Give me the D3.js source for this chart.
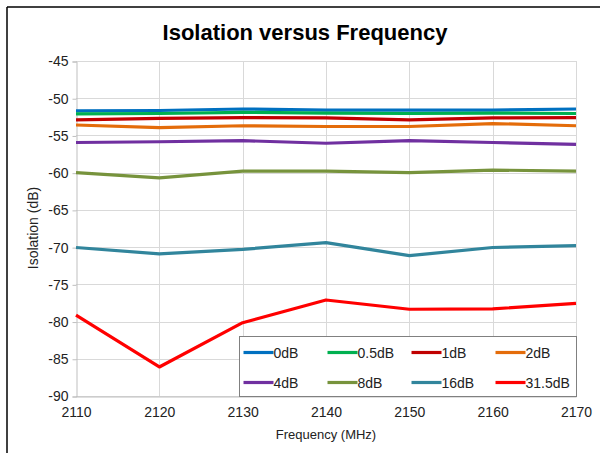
<!DOCTYPE html>
<html>
<head>
<meta charset="utf-8">
<script src="https://cdn.jsdelivr.net/npm/d3@7"></script>
<style>
  body { margin: 0; background: #fff; }
  svg { display: block; font-family: "Liberation Sans", Arial, sans-serif; }
</style>
</head>
<body>
<div id="chart"></div>
<script>
var freqs = [2110, 2120, 2130, 2140, 2150, 2160, 2170];

var s0dB = [-51.7, -51.65, -51.45, -51.6, -51.6, -51.6, -51.45];
var s05dB = [-52.1, -52.05, -51.9, -52.0, -52.05, -52.0, -52.05];
var s1dB = [-52.9, -52.7, -52.6, -52.65, -52.9, -52.65, -52.6];
var s2dB = [-53.6, -53.95, -53.7, -53.8, -53.8, -53.4, -53.7];
var s4dB = [-55.95, -55.85, -55.7, -56.05, -55.7, -55.95, -56.2];
var s8dB = [-60.0, -60.7, -59.8, -59.8, -60.0, -59.65, -59.8];
var s16dB = [-70.05, -70.9, -70.3, -69.4, -71.15, -70.05, -69.8];
var s315dB = [-79.15, -86.1, -80.15, -77.1, -78.35, -78.3, -77.55];

var seriesNames = ["0dB", "0.5dB", "1dB", "2dB", "4dB", "8dB", "16dB", "31.5dB"];
var seriesValues = [s0dB, s05dB, s1dB, s2dB, s4dB, s8dB, s16dB, s315dB];
var colors = ["#0070C0", "#00B050", "#C00000", "#E46C0A", "#7030A0", "#77933C", "#31859C", "#FF0000"];

var yTicks = [-45, -50, -55, -60, -65, -70, -75, -80, -85, -90];

var W = 600, H = 453;
var plotL = 76, plotR = 576, plotT = 61, plotB = 396;

var svg = d3.select("#chart").append("svg")
  .attr("width", W)
  .attr("height", H);

// outer frame (left + top only visible)
svg.append("line").attr("x1", 7).attr("y1", 7).attr("x2", 600).attr("y2", 7)
  .style("stroke", "#000").style("stroke-width", 1.5);
svg.append("line").attr("x1", 7).attr("y1", 7).attr("x2", 7).attr("y2", 453)
  .style("stroke", "#000").style("stroke-width", 1.5);

var x = d3.scaleLinear().domain([2110, 2170]).range([plotL, plotR]);
var y = d3.scaleLinear().domain([-90, -45]).range([plotB, plotT]);

// gridlines
svg.append("g")
  .selectAll("line")
  .data(yTicks)
  .enter()
  .append("line")
  .attr("x1", plotL)
  .attr("x2", plotR)
  .attr("y1", function (d) { return Math.round(y(d)) + 0.5; })
  .attr("y2", function (d) { return Math.round(y(d)) + 0.5; })
  .style("stroke", "#d9d9d9");

svg.append("g")
  .selectAll("line")
  .data(freqs.slice(1))
  .enter()
  .append("line")
  .attr("x1", function (d) { return Math.round(x(d)) + 0.5; })
  .attr("x2", function (d) { return Math.round(x(d)) + 0.5; })
  .attr("y1", plotT)
  .attr("y2", plotB)
  .style("stroke", "#d9d9d9");

// y axis
var yAxis = d3.axisLeft(y).tickValues(yTicks).tickSize(4).tickPadding(4)
  .tickFormat(function (d) { return String(d); });
var gy = svg.append("g")
  .attr("transform", "translate(" + (plotL + 0.5) + ",0.5)")
  .call(yAxis);
gy.select(".domain").style("stroke", "#bfbfbf");
gy.selectAll(".tick line").style("stroke", "#bfbfbf");
gy.selectAll("text").style("font-size", "14px").style("fill", "#222")
  .style("font-family", "Liberation Sans, Arial, sans-serif");

// x axis
var xAxis = d3.axisBottom(x).tickValues(freqs).tickSize(0).tickPadding(11)
  .tickFormat(d3.format("d"));
var gx = svg.append("g")
  .attr("transform", "translate(0," + (plotB + 0.5) + ")")
  .call(xAxis);
gx.select(".domain").style("stroke", "#bfbfbf");
gx.selectAll("text").style("font-size", "14px").style("fill", "#222")
  .style("font-family", "Liberation Sans, Arial, sans-serif");

// lines
var line = d3.line()
  .x(function (d, i) { return x(freqs[i]); })
  .y(function (d) { return y(d); });

svg.append("g")
  .selectAll("path")
  .data(seriesValues)
  .enter()
  .append("path")
  .attr("d", line)
  .style("fill", "none")
  .style("stroke", function (d, i) { return colors[i]; })
  .style("stroke-width", 3.2)
  .style("stroke-linejoin", "round");

// titles
svg.append("text")
  .attr("x", 305)
  .attr("y", 40)
  .style("text-anchor", "middle")
  .style("font-size", "22px")
  .style("font-weight", "bold")
  .text("Isolation versus Frequency");

svg.append("text")
  .attr("x", (plotL + plotR) / 2)
  .attr("y", 439)
  .style("text-anchor", "middle")
  .style("font-size", "13px")
  .style("fill", "#222")
  .text("Frequency (MHz)");

svg.append("text")
  .attr("transform", "translate(38,228) rotate(-90)")
  .style("text-anchor", "middle")
  .style("font-size", "14px")
  .style("fill", "#222")
  .text("Isolation (dB)");

// legend
var legend = svg.append("g").attr("transform", "translate(239.5,336.5)");
legend.append("rect")
  .attr("width", plotR - 239)
  .attr("height", plotB - 336)
  .style("fill", "#fff")
  .style("stroke", "#808080");

var items = legend.selectAll("g")
  .data(seriesNames)
  .enter()
  .append("g")
  .attr("transform", function (d, i) {
    return "translate(" + (4 + (i % 4) * 84) + "," + (16 + Math.floor(i / 4) * 30) + ")";
  });
items.append("line")
  .attr("x1", 0).attr("x2", 30).attr("y1", 0).attr("y2", 0)
  .style("stroke", function (d, i) { return colors[i]; })
  .style("stroke-width", 3.2);
items.append("text")
  .attr("x", 30)
  .attr("y", 5)
  .style("font-size", "14px")
  .style("fill", "#222")
  .text(function (d) { return d; });
</script>
</body>
</html>
